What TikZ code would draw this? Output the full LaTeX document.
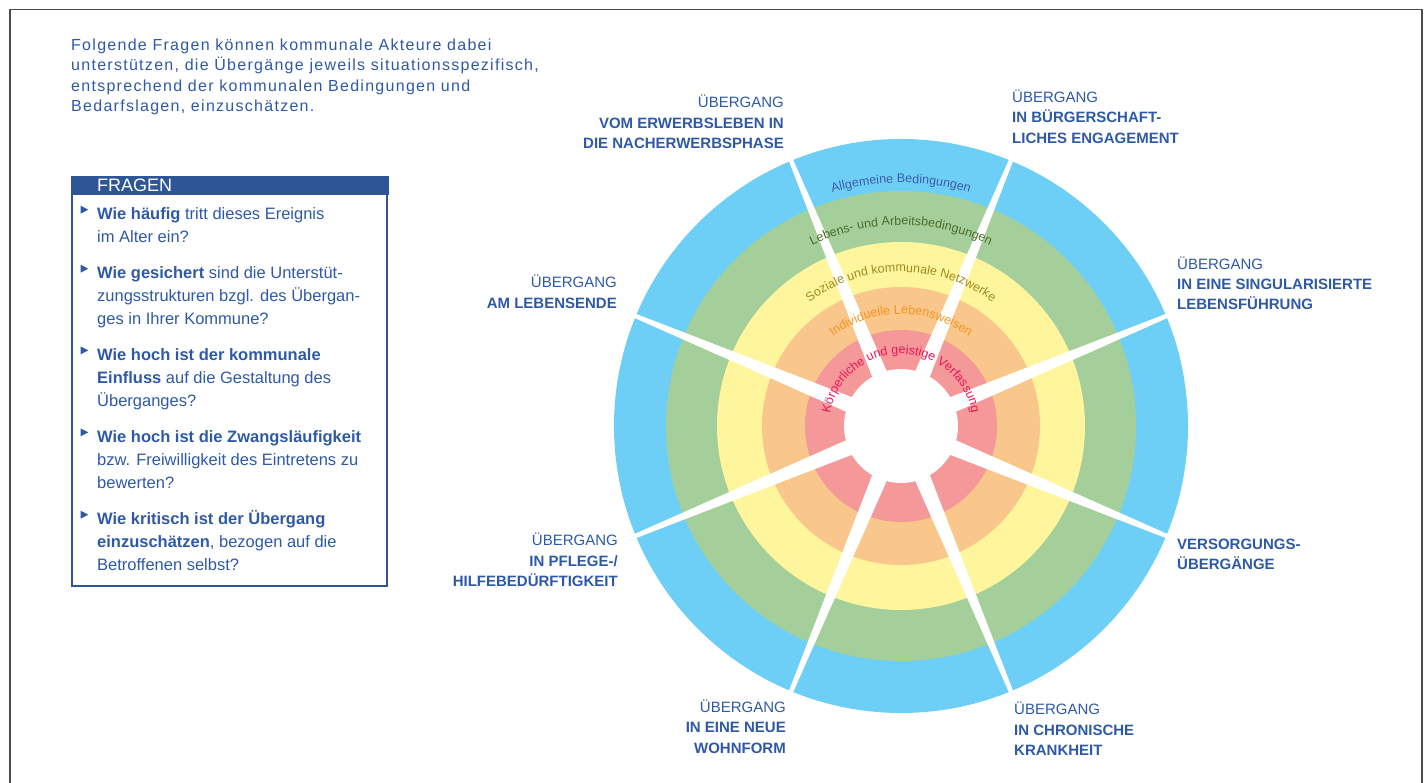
\documentclass[tikz,border=0pt]{standalone}
\usepackage{fontspec}
\setmainfont{Liberation Sans}
\usetikzlibrary{decorations.text}

\definecolor{textblue}{HTML}{2E59A7}
\definecolor{barblue}{HTML}{2E5596}
\definecolor{ringblue}{HTML}{6DCFF6}
\definecolor{ringgreen}{HTML}{A4CF9B}
\definecolor{ringyellow}{HTML}{FFF59D}
\definecolor{ringorange}{HTML}{F9C68B}
\definecolor{ringred}{HTML}{F4989A}
\definecolor{txtblue}{HTML}{3E5CAA}
\definecolor{txtgreen}{HTML}{4E6B2B}
\definecolor{txtyellow}{HTML}{A08C20}
\definecolor{txtorange}{HTML}{F7941D}
\definecolor{txtred}{HTML}{ED1556}
\definecolor{framegray}{HTML}{4D4D4D}

\tikzset{
	intro/.style = {align=left, inner sep=0, text=textblue, font=\fontsize{16}{20.2}\selectfont\addfontfeature{LetterSpace=8}},
	frage/.style = {align=left, inner sep=0, text=textblue, font=\fontsize{16.5}{22.7}\selectfont},
	bullet/.style = {fill=textblue},
	uebergang/.style = {inner sep=0, text=textblue, font=\fontsize{15}{20.4}\selectfont},
	spoke/.style = {fill=white},
	ringtext/.style 2 args = {decorate, decoration={text along path, text align=center, text color=#1, text={|\fontsize{12.5}{12.5}\selectfont|#2}}},
}

\begin{document}
\begin{tikzpicture}[x=1pt, y=1pt]
	\useasboundingbox (0, 0) rectangle (1425, 783);
	
	% frame
	\draw [framegray, line width=1.2] (10, -5) -- (10, 773.5) -- (1422, 773.5) -- (1422, -5);
	
	% intro
	\node [intro, anchor=base west] (intro) at (71, 671.7) {Folgende Fragen können kommunale Akteure dabei\\unterstützen, die Übergänge jeweils situationsspezifisch,\\entsprechend der kommunalen Bedingungen und\\Bedarfslagen, einzuschätzen.};
	
	% fragen
	\fill [barblue] (71, 588) rectangle (389, 607);
	\node [anchor=base west, inner sep=0, text=white, font=\fontsize{18}{18}\selectfont] (fragen) at (97, 591) {FRAGEN};
	\draw [barblue, line width=1.3] (72, 588) -- (72, 197) -- (387, 197) -- (387, 588);
	
	\node [frage, anchor=base west] (q1) at (97, 540.3) {\textbf{Wie häufig} tritt dieses Ereignis\\im Alter ein?};
	\node [frage, anchor=base west] (q2) at (97, 458.6) {\textbf{Wie gesichert} sind die Unterstüt-\\zungsstrukturen bzgl. des Übergan-\\ges in Ihrer Kommune?};
	\node [frage, anchor=base west] (q3) at (97, 376.9) {\textbf{Wie hoch ist der kommunale}\\\textbf{Einfluss} auf die Gestaltung des\\Überganges?};
	\node [frage, anchor=base west] (q4) at (97, 294.9) {\textbf{Wie hoch ist die Zwangsläufigkeit}\\bzw. Freiwilligkeit des Eintretens zu\\bewerten?};
	\node [frage, anchor=base west] (q5) at (97, 212.6) {\textbf{Wie kritisch ist der Übergang}\\\textbf{einzuschätzen}, bezogen auf die\\Betroffenen selbst?};
	
	% bullets
	\fill [bullet] ([shift={(-16.5, 37)}]q1.base west) -- ++(0, -8) -- ++(7.8, 4) -- cycle;
	\fill [bullet] ([shift={(-16.5, 59.7)}]q2.base west) -- ++(0, -8) -- ++(7.8, 4) -- cycle;
	\fill [bullet] ([shift={(-16.5, 59.7)}]q3.base west) -- ++(0, -8) -- ++(7.8, 4) -- cycle;
	\fill [bullet] ([shift={(-16.5, 59.7)}]q4.base west) -- ++(0, -8) -- ++(7.8, 4) -- cycle;
	\fill [bullet] ([shift={(-16.5, 59.7)}]q5.base west) -- ++(0, -8) -- ++(7.8, 4) -- cycle;
	
	% wheel
	\begin{scope}[shift={(901, 357)}]
	% rings
	\fill [ringblue] (0, 0) circle (287);
	\fill [ringgreen] (0, 0) circle (235);
	\fill [ringyellow] (0, 0) circle (184);
	\fill [ringorange] (0, 0) circle (139);
	\fill [ringred] (0, 0) circle (96);
	\fill [white] (0, 0) circle (57);
	
	% spokes
	\fill [spoke, rotate=22.5] (50, -8) -- (295, -2) -- (295, 2) -- (50, 8) -- cycle;
	\fill [spoke, rotate=67.5] (50, -8) -- (295, -2) -- (295, 2) -- (50, 8) -- cycle;
	\fill [spoke, rotate=112.5] (50, -8) -- (295, -2) -- (295, 2) -- (50, 8) -- cycle;
	\fill [spoke, rotate=157.5] (50, -8) -- (295, -2) -- (295, 2) -- (50, 8) -- cycle;
	\fill [spoke, rotate=202.5] (50, -8) -- (295, -2) -- (295, 2) -- (50, 8) -- cycle;
	\fill [spoke, rotate=247.5] (50, -8) -- (295, -2) -- (295, 2) -- (50, 8) -- cycle;
	\fill [spoke, rotate=292.5] (50, -8) -- (295, -2) -- (295, 2) -- (50, 8) -- cycle;
	\fill [spoke, rotate=337.5] (50, -8) -- (295, -2) -- (295, 2) -- (50, 8) -- cycle;
	
	% ring texts
	\path [ringtext={txtblue}{Allgemeine Bedingungen}] (180:243) arc (180:0:243);
	\path [ringtext={txtgreen}{Lebens- und Arbeitsbedingungen}] (180:201) arc (180:0:201);
	\path [ringtext={txtyellow}{Soziale und kommunale Netzwerke}] (180:154) arc (180:0:154);
	\path [ringtext={txtorange}{Individuelle Lebensweisen}] (180:112) arc (180:0:112);
	\path [ringtext={txtred}{Körperliche und geistige Verfassung}] (180:72) arc (180:0:72);
	\end{scope}
	
	% uebergaenge
	\node [uebergang, align=right, anchor=base east] (erwerb) at (784, 634.3) {ÜBERGANG\\\textbf{VOM ERWERBSLEBEN IN}\\\textbf{DIE NACHERWERBSPHASE}};
	\node [uebergang, align=left, anchor=base west] (engagement) at (1012, 639.7) {ÜBERGANG\\\textbf{IN BÜRGERSCHAFT-}\\\textbf{LICHES ENGAGEMENT}};
	\node [uebergang, align=left, anchor=base west] (single) at (1177, 473) {ÜBERGANG\\\textbf{IN EINE SINGULARISIERTE}\\\textbf{LEBENSFÜHRUNG}};
	\node [uebergang, align=left, anchor=base west] (versorgung) at (1177, 213) {\textbf{VERSORGUNGS-}\\\textbf{ÜBERGÄNGE}};
	\node [uebergang, align=left, anchor=base west] (krankheit) at (1014, 27.3) {ÜBERGANG\\\textbf{IN CHRONISCHE}\\\textbf{KRANKHEIT}};
	\node [uebergang, align=right, anchor=base east] (wohnform) at (786, 29.7) {ÜBERGANG\\\textbf{IN EINE NEUE}\\\textbf{WOHNFORM}};
	\node [uebergang, align=right, anchor=base east] (pflege) at (618, 196.3) {ÜBERGANG\\\textbf{IN PFLEGE-/}\\\textbf{HILFEBEDÜRFTIGKEIT}};
	\node [uebergang, align=right, anchor=base east] (lebensende) at (617, 474.7) {ÜBERGANG\\\textbf{AM LEBENSENDE}};
\end{tikzpicture}
\end{document}
